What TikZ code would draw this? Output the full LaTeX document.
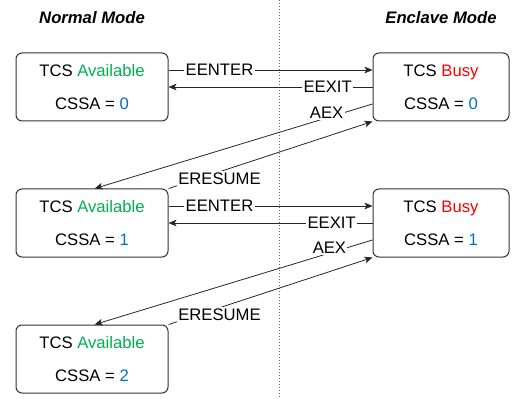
\documentclass[tikz,border=0pt]{standalone}
\usepackage{fontspec}
\setmainfont{Liberation Sans}
\usetikzlibrary{arrows.meta}
\definecolor{availgreen}{HTML}{00B050}
\definecolor{busyred}{HTML}{FF0000}
\definecolor{countblue}{HTML}{0070C0}
\begin{document}
\begin{tikzpicture}[x=0.75pt,y=-0.75pt,
  every node/.style={font=\fontsize{12.5}{24.75}\selectfont},
  statebox/.style={draw=black!80, rounded corners=4.5pt, line width=0.75pt, align=center, inner sep=0pt},
  leftbox/.style={statebox, minimum width=114pt, minimum height=51pt},
  rightbox/.style={statebox, minimum width=102pt, minimum height=51pt},
  flow/.style={draw=black!85, line width=0.6pt, -{Stealth[length=6pt,width=5pt,inset=1.5pt]}},
  tag/.style={fill=white, inner sep=1pt},
  title/.style={font=\fontsize{12.5}{15}\selectfont\bfseries\itshape},
  divider/.style={draw=black!60, line width=0.75pt, dash pattern=on 0.75pt off 1.5pt}
]
\useasboundingbox (0,0) rectangle (514,399);

% mode headings and the dividing line
\node[title] (normal) at (92,18) {Normal Mode};
\node[title] (enclave) at (441,18) {Enclave Mode};
\coordinate (dtop) at (279,0);
\coordinate (dbot) at (279,399);
\draw[divider] (dtop) -- (dbot);

% TCS states
\node[leftbox] (L1) at (92,87) {TCS \textcolor{availgreen}{Available}\\CSSA = \textcolor{countblue}{0}};
\node[rightbox] (R1) at (441,87) {TCS \textcolor{busyred}{Busy}\\CSSA = \textcolor{countblue}{0}};
\node[leftbox] (L2) at (92,223) {TCS \textcolor{availgreen}{Available}\\CSSA = \textcolor{countblue}{1}};
\node[rightbox] (R2) at (441,223) {TCS \textcolor{busyred}{Busy}\\CSSA = \textcolor{countblue}{1}};
\node[leftbox] (L3) at (92,359) {TCS \textcolor{availgreen}{Available}\\CSSA = \textcolor{countblue}{2}};

% first level transitions
\draw[flow] ([yshift=12.75pt]L1.east) -- node[tag,pos=0.25] (eenter1) {EENTER} ([yshift=12.75pt]R1.west);
\draw[flow] (R1.west) -- node[tag,pos=0.22] (eexit1) {EEXIT} (L1.east);
\draw[flow] ([yshift=-12.75pt]R1.west) -- node[tag,pos=0.165,yshift=4pt] (aex1) {AEX} ([xshift=2pt]L2.north);
\draw[flow] (L2.north east) -- node[tag,pos=0.25,yshift=-5pt] (eresume1) {ERESUME} (R1.south west);

% second level transitions
\draw[flow] ([yshift=12.75pt]L2.east) -- node[tag,pos=0.25] (eenter2) {EENTER} ([yshift=12.75pt]R2.west);
\draw[flow] (R2.west) -- node[tag,pos=0.2] (eexit2) {EEXIT} (L2.east);
\draw[flow] ([yshift=-12.75pt]R2.west) -- node[tag,pos=0.155,yshift=4pt] (aex2) {AEX} ([xshift=2pt]L3.north);
\draw[flow] (L3.north east) -- node[tag,pos=0.25,yshift=-5pt] (eresume2) {ERESUME} (R2.south west);
\end{tikzpicture}
\end{document}
